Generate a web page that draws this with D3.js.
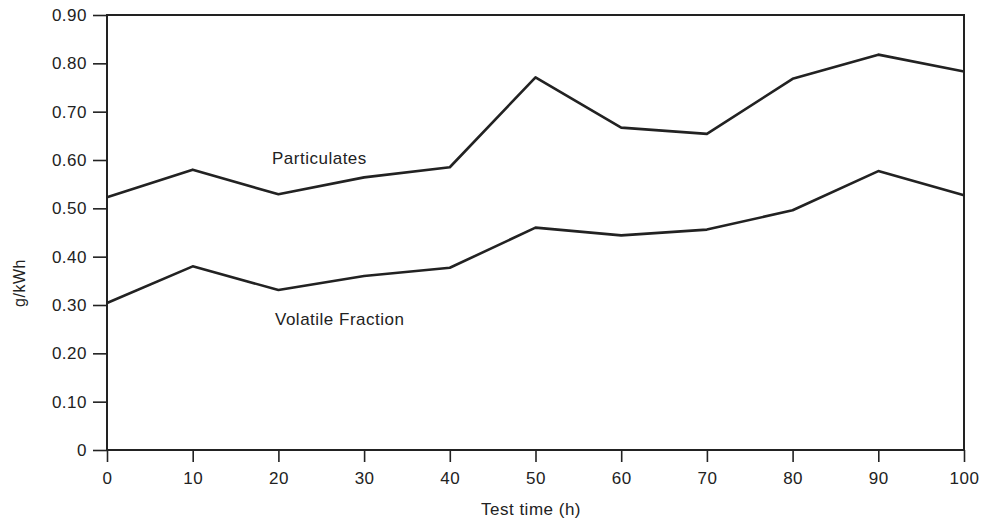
<!DOCTYPE html>
<html>
<head>
<meta charset="utf-8">
<script src="https://cdn.jsdelivr.net/npm/d3@7"></script>
<style>
  body { margin: 0; background: #fff; }
  svg text { font-family: "Liberation Sans", Arial, sans-serif; fill: #222; letter-spacing: 0.5px; }
</style>
</head>
<body>
<script>
// data
var hours = [0, 10, 20, 30, 40, 50, 60, 70, 80, 90, 100];
var particulates = [0.523, 0.58, 0.529, 0.564, 0.585, 0.771, 0.667, 0.654, 0.768, 0.818, 0.783];
var volatile = [0.304, 0.38, 0.331, 0.36, 0.377, 0.46, 0.444, 0.456, 0.496, 0.577, 0.527];
var yTicks = [0, 0.1, 0.2, 0.3, 0.4, 0.5, 0.6, 0.7, 0.8, 0.9];

var width = 982, height = 523;
var margin = {left: 107, right: 18, top: 15, bottom: 73};

var svg = d3.select('body').append('svg')
    .attr('width', width)
    .attr('height', height);

var x = d3.scaleLinear().domain([0, 100]).range([margin.left, width - margin.right]);
var y = d3.scaleLinear().domain([0, 0.9]).range([height - margin.bottom, margin.top]);

var fmt = function (d) { return d === 0 ? '0' : d3.format('.2f')(d); };

// axes
var gx = svg.append('g')
    .attr('transform', 'translate(0,' + y(0) + ')')
    .call(d3.axisBottom(x).tickValues(hours).tickSize(12).tickPadding(8));
var gy = svg.append('g')
    .attr('transform', 'translate(' + x(0) + ',0)')
    .call(d3.axisLeft(y).tickValues(yTicks).tickFormat(fmt).tickSize(14).tickPadding(6));

[gx, gy].forEach(function (g) {
    g.select('.domain').remove();
    g.selectAll('line').attr('stroke', '#222').attr('stroke-width', 1.6);
    g.selectAll('text').style('font-size', '17px').attr('fill', '#222');
});
gx.selectAll('text').attr('dy', '0.85em');

// frame
svg.append('rect')
    .attr('x', x(0)).attr('y', y(0.9))
    .attr('width', x(100) - x(0)).attr('height', y(0) - y(0.9))
    .attr('fill', 'none').attr('stroke', '#222').attr('stroke-width', 2);

var line = d3.line()
    .x(function (d, i) { return x(hours[i]); })
    .y(function (d) { return y(d); });

[particulates, volatile].forEach(function (s) {
    svg.append('path')
        .datum(s)
        .attr('d', line)
        .attr('fill', 'none')
        .attr('stroke', '#222')
        .attr('stroke-width', 2.6)
        .attr('stroke-linejoin', 'round');
});

// series labels
svg.append('text').attr('x', 272).attr('y', 164).style('font-size', '17px').text('Particulates');
svg.append('text').attr('x', 275).attr('y', 325).style('font-size', '17px').text('Volatile Fraction');

// axis titles
svg.append('text')
    .attr('x', 531).attr('y', 515)
    .attr('text-anchor', 'middle')
    .style('font-size', '17px')
    .text('Test time (h)');
svg.append('text')
    .attr('transform', 'translate(25,' + 283 + ') rotate(-90)')
    .attr('text-anchor', 'middle')
    .style('font-size', '16px')
    .text('g/kWh');
</script>
</body>
</html>
